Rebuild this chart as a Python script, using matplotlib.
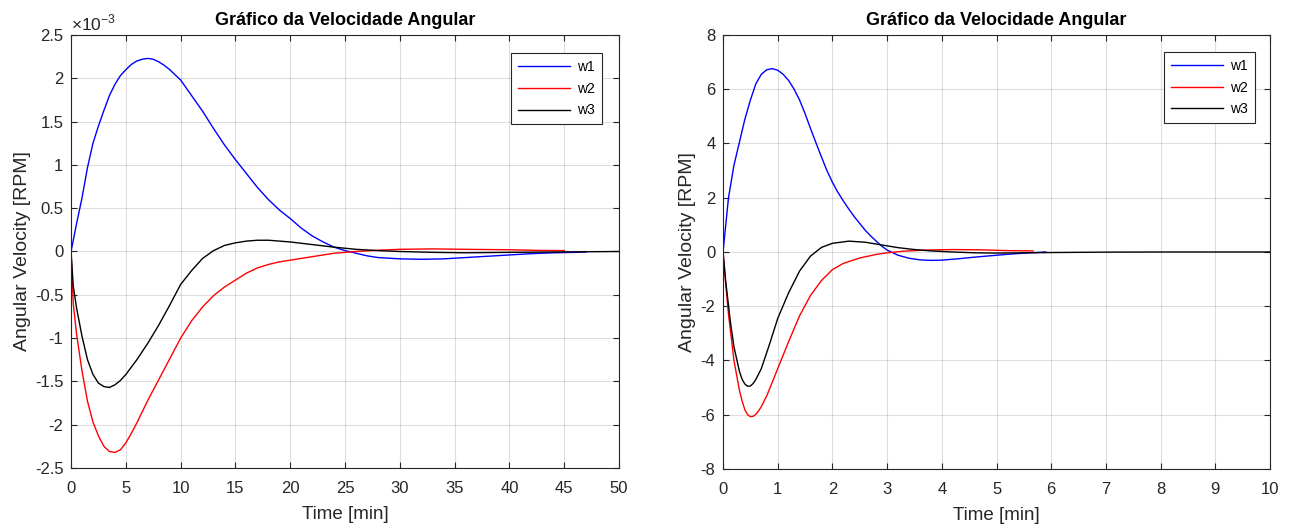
import numpy as np
import matplotlib
matplotlib.use("Agg")
import matplotlib.pyplot as plt
from matplotlib.ticker import FuncFormatter

plt.rcParams['font.family'] = ['Liberation Sans', 'DejaVu Sans']
plt.rcParams['mathtext.fontset'] = 'custom'
plt.rcParams['mathtext.rm'] = 'Liberation Sans'
plt.rcParams['axes.unicode_minus'] = False

# Left chart: time [min], values in units of 1e-3 RPM
t1_left = [0, 0.5, 1, 1.5, 2, 2.5, 3, 3.5, 4, 4.5, 5, 5.5, 6, 6.5, 7, 7.5, 8, 8.5, 9, 10,
           11, 12, 13, 14, 15, 16, 17, 18, 19, 20, 21, 22, 23, 24, 25, 26, 27, 28, 30, 32,
           34, 36, 38, 40, 42, 44, 46, 47]
w1_left = [0, 0.32, 0.62, 0.97, 1.25, 1.45, 1.63, 1.8, 1.93, 2.03, 2.1, 2.16, 2.2, 2.22, 2.23,
           2.22, 2.19, 2.15, 2.1, 1.98, 1.8, 1.62, 1.42, 1.23, 1.06, 0.9, 0.74, 0.6, 0.48, 0.38,
           0.27, 0.18, 0.11, 0.05, 0.01, -0.02, -0.05, -0.07, -0.085, -0.09, -0.085, -0.07,
           -0.055, -0.04, -0.025, -0.015, -0.01, -0.005]

t2_left = [0, 0.2, 0.5, 1, 1.5, 2, 2.5, 3, 3.5, 4, 4.5, 5, 5.5, 6, 7, 8, 9, 10, 11, 12, 13,
           14, 15, 16, 17, 18, 19, 20, 22, 24, 26, 28, 30, 33, 36, 40, 43, 45]
w2_left = [0, -0.6, -0.95, -1.38, -1.73, -1.97, -2.13, -2.25, -2.31, -2.32, -2.29, -2.21,
           -2.1, -1.98, -1.72, -1.48, -1.24, -1.0, -0.8, -0.64, -0.51, -0.41, -0.33, -0.25,
           -0.19, -0.15, -0.12, -0.1, -0.06, -0.02, 0.0, 0.015, 0.025, 0.03, 0.025, 0.02,
           0.012, 0.01]

t3_left = [0, 0.2, 0.5, 1, 1.5, 2, 2.5, 3, 3.5, 4, 4.5, 5, 6, 7, 8, 9, 10, 11, 12, 13, 14,
           15, 16, 17, 18, 19, 20, 22, 24, 26, 28, 30, 33, 36, 40, 45, 50]
w3_left = [0, -0.4, -0.65, -0.98, -1.25, -1.42, -1.52, -1.56, -1.57, -1.54, -1.49, -1.42,
           -1.25, -1.06, -0.85, -0.62, -0.38, -0.22, -0.08, 0.01, 0.07, 0.1, 0.12, 0.13, 0.13,
           0.12, 0.11, 0.08, 0.05, 0.025, 0.01, 0.0, -0.01, -0.015, -0.01, -0.005, 0]

# Right chart: time [min], values in RPM
t1_right = [0, 0.1, 0.2, 0.3, 0.4, 0.5, 0.6, 0.7, 0.8, 0.9, 1.0, 1.1, 1.2, 1.3, 1.4, 1.5,
            1.6, 1.7, 1.8, 1.9, 2.0, 2.1, 2.2, 2.3, 2.4, 2.5, 2.6, 2.7, 2.8, 2.9, 3.0, 3.2,
            3.4, 3.6, 3.8, 4.0, 4.3, 4.6, 5.0, 5.3, 5.6, 5.9]
w1_right = [0, 2.0, 3.2, 4.05, 4.9, 5.6, 6.2, 6.55, 6.72, 6.76, 6.7, 6.55, 6.32, 6.0, 5.6,
            5.1, 4.55, 4.02, 3.5, 3.0, 2.57, 2.2, 1.88, 1.58, 1.3, 1.05, 0.8, 0.59, 0.4, 0.22,
            0.07, -0.12, -0.23, -0.29, -0.31, -0.3, -0.25, -0.19, -0.12, -0.07, -0.03, 0.0]

t2_right = [0, 0.05, 0.1, 0.2, 0.3, 0.35, 0.4, 0.45, 0.5, 0.55, 0.6, 0.65, 0.7, 0.8, 0.9,
            1.0, 1.2, 1.4, 1.6, 1.8, 2.0, 2.2, 2.5, 2.8, 3.0, 3.3, 3.7, 4.2, 4.7, 5.2, 5.67]
w2_right = [0, -1.2, -2.3, -4.0, -5.1, -5.5, -5.82, -6.0, -6.07, -6.06, -5.98, -5.86, -5.7,
            -5.3, -4.8, -4.3, -3.3, -2.35, -1.6, -1.05, -0.65, -0.42, -0.22, -0.09, -0.03,
            0.03, 0.07, 0.09, 0.08, 0.05, 0.04]

t3_right = [0, 0.05, 0.13, 0.2, 0.3, 0.35, 0.4, 0.45, 0.5, 0.55, 0.6, 0.7, 0.85, 1.0, 1.2,
            1.4, 1.6, 1.8, 2.0, 2.3, 2.6, 2.9, 3.2, 3.5, 3.8, 4.2, 4.6, 5.0, 5.5, 6.0, 7.0,
            8.0, 10.0]
w3_right = [0, -1.1, -2.5, -3.5, -4.4, -4.7, -4.87, -4.95, -4.94, -4.85, -4.7, -4.3, -3.4,
            -2.45, -1.5, -0.7, -0.15, 0.17, 0.32, 0.4, 0.36, 0.26, 0.16, 0.09, 0.04, 0.0,
            -0.03, -0.04, -0.03, -0.02, -0.005, 0, 0]

labels = ['w1', 'w2', 'w3']
colors = ['#0000FF', '#FF0000', '#000000']
title = 'Gráfico da Velocidade Angular'
dark = '#262626'

fig = plt.figure(figsize=(12.99, 5.24), dpi=100)
ax1 = fig.add_axes([0.0547, 0.1069, 0.4219, 0.8263])
ax2 = fig.add_axes([0.5566, 0.1050, 0.4211, 0.8282])


def style(ax, xlim, ylim, xt, yt, fmt, anchor):
    ax.set_xlim(*xlim)
    ax.set_ylim(*ylim)
    ax.set_xticks(xt)
    ax.set_yticks(yt)
    ax.yaxis.set_major_formatter(FuncFormatter(fmt))
    ax.xaxis.set_major_formatter(FuncFormatter(lambda v, p: '%g' % v))
    ax.grid(True, color='#000000', alpha=0.13, linewidth=0.8)
    ax.set_axisbelow(True)
    ax.tick_params(direction='in', top=True, right=True, length=4, width=0.8,
                   colors=dark, labelsize=12)
    ax.tick_params(axis='x', pad=9.5)
    ax.tick_params(axis='y', pad=5.5)
    for s in ax.spines.values():
        s.set_color(dark)
        s.set_linewidth(0.8)
    ax.set_title(title, fontsize=13, fontweight='bold', color='#000000', pad=7)
    ax.set_xlabel('Time [min]', fontsize=13.5, color=dark, labelpad=7)
    ax.set_ylabel('Angular Velocity [RPM]', fontsize=14, color=dark, labelpad=3)
    leg = ax.legend(loc='upper right', bbox_to_anchor=anchor, borderaxespad=0,
                    fontsize=10, fancybox=False, framealpha=1, edgecolor=dark,
                    handlelength=3.8, labelspacing=0.55, handletextpad=0.5,
                    borderpad=0.5)
    leg.get_frame().set_linewidth(0.8)


# left chart
scale = 1e-3
for t, w, lab, c in zip([t1_left, t2_left, t3_left], [w1_left, w2_left, w3_left], labels, colors):
    ax1.plot(t, np.array(w) * scale, color=c, linewidth=1.0, label=lab)
style(ax1, (0, 50), (-2.5e-3, 2.5e-3), np.arange(0, 51, 5),
      np.arange(-2.5, 2.51, 0.5) * scale, lambda v, p: '%g' % round(v / scale, 3),
      (0.969, 0.958))
ax1.text(0.0, 1.004, r'$\times10^{-3}$', transform=ax1.transAxes, fontsize=12.5,
         color=dark, ha='left', va='bottom')

# right chart
for t, w, lab, c in zip([t1_right, t2_right, t3_right], [w1_right, w2_right, w3_right], labels, colors):
    ax2.plot(t, w, color=c, linewidth=1.0, label=lab)
style(ax2, (0, 10), (-8, 8), np.arange(0, 11, 1), np.arange(-8, 9, 2),
      lambda v, p: '%g' % v, (0.973, 0.961))

fig.savefig('out.png', dpi=100)
